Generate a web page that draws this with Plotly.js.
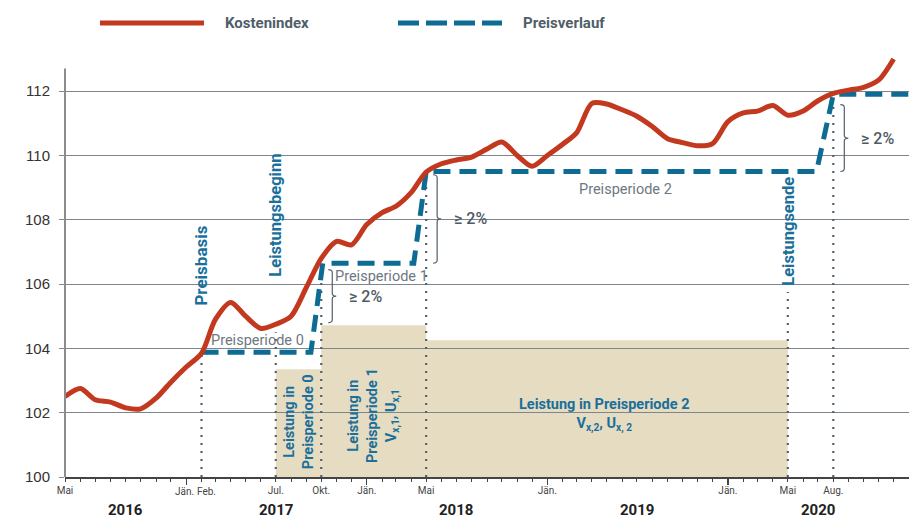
<!DOCTYPE html>
<html><head><meta charset="utf-8">
<script src="https://cdn.plot.ly/plotly-3.0.1.min.js"></script>
<style>html,body{margin:0;padding:0;background:#fff}#chart{width:909px;height:518px}</style>
</head><body><div id="chart"></div>
<script>
// ---- data ----
const months = [
 "2016-05-01","2016-06-01","2016-07-01","2016-08-01","2016-09-01","2016-10-01","2016-11-01","2016-12-01",
 "2017-01-01","2017-02-01","2017-03-01","2017-04-01","2017-05-01","2017-06-01","2017-07-01","2017-08-01","2017-09-01","2017-10-01","2017-11-01","2017-12-01",
 "2018-01-01","2018-02-01","2018-03-01","2018-04-01","2018-05-01","2018-06-01","2018-07-01","2018-08-01","2018-09-01","2018-10-01","2018-11-01","2018-12-01",
 "2019-01-01","2019-02-01","2019-03-01","2019-04-01","2019-05-01","2019-06-01","2019-07-01","2019-08-01","2019-09-01","2019-10-01","2019-11-01","2019-12-01",
 "2020-01-01","2020-02-01","2020-03-01","2020-04-01","2020-05-01","2020-06-01","2020-07-01","2020-08-01","2020-09-01","2020-10-01","2020-11-01","2020-12-01"];
const kostenindex = [
 102.5,102.75,102.4,102.33,102.15,102.12,102.45,102.95,
 103.42,103.85,104.9,105.43,105.0,104.62,104.75,105.0,105.9,106.8,107.33,107.22,
 107.85,108.22,108.42,108.85,109.48,109.74,109.86,109.95,110.2,110.42,110.0,109.66,
 110.0,110.35,110.7,111.62,111.6,111.42,111.22,110.9,110.52,110.4,110.3,110.37,
 111.05,111.32,111.38,111.55,111.25,111.38,111.7,111.93,112.03,112.12,112.35,113.0];
const preisDates = ["2017-02-01","2017-09-10","2017-10-04","2018-04-06","2018-05-01","2020-06-28","2020-08-01","2021-01-01"];
const preisWerte = [103.88,103.88,106.65,106.65,109.5,109.5,111.9,111.9];
const periodStart = ["2017-07-01","2017-10-01","2018-05-01"];
const periodEnd   = ["2017-10-01","2018-05-01","2020-05-01"];
const periodTop   = [103.35,104.72,104.25];
const markerDates = ["2017-02-01","2017-07-01","2017-10-01","2018-05-01","2020-05-01","2020-08-01"];
const markerTop   = [103.88,104.5,106.55,109.45,105.75,111.7];
const braceAnchor = ["2017-10-01","2018-05-01","2020-08-01"];
const braceLow    = [104.8,106.65,109.5];
const braceHigh   = [106.45,109.4,111.58];
const braceLabel  = ["≥ 2%","≥ 2%","≥ 2%"];
const tickDates = ["2016-05-01","2017-07-01","2017-10-01","2018-01-01","2018-05-01","2019-01-01","2020-01-01","2020-05-01","2020-08-01"];
const tickLabels = ["Mai","Jul.","Okt.","Jän.","Mai","Jän.","Jän.","Mai","Aug."];
const closeTickDates = ["2017-01-01","2017-02-01"];
const closeTickLabels = ["Jän.","Feb."];
const yearDates = ["2017-01-01","2018-01-01","2019-01-01","2020-01-01"];
const yearLabels = ["2016","2017","2018","2019","2020"];
const yearPos = ["2016-09-01","2017-07-01","2018-07-01","2019-07-01","2020-07-01"];
const yTicks = [100,102,104,106,108,110,112];

// ---- styles ----
const RED = "#c3391f", BLUE = "#0d6b94", TXTBLUE = "#1a6f9b", GREY = "#55606a", BEIGE = "#e6dcc2";
const FONT = "Roboto, 'Liberation Sans', sans-serif";

// dotted verticals
const dx = [], dy = [];
markerDates.forEach((d,i)=>{ dx.push(d,d,null); dy.push(100,markerTop[i],null); });

const traces = [
 {x: dx, y: dy, mode: "lines", line: {color: GREY, width: 2.2, dash: "2px,6px"}, hoverinfo: "skip", showlegend: false},
 {x: yearDates, y: yearDates.map(()=>null), xaxis: "x2", yaxis: "y", mode: "lines", hoverinfo: "skip", showlegend: false},
 {x: preisDates, y: preisWerte, name: "Preisverlauf", mode: "lines", line: {color: BLUE, width: 5, dash: "17px,9px"}, showlegend: false},
 {x: months, y: kostenindex, name: "Kostenindex", mode: "lines", line: {color: RED, width: 5, shape: "spline", smoothing: 0.8}, showlegend: false}
];

const shapes = [];
periodStart.forEach((s,i)=>{
  shapes.push({type: "rect", xref: "x", yref: "y", x0: s, x1: periodEnd[i], y0: 100, y1: periodTop[i],
    fillcolor: BEIGE, line: {width: 0}, layer: "below"});
});
braceAnchor.forEach((a,i)=>{
  const L = braceLow[i], H = braceHigh[i], M = (L+H)/2, d = 0.09;
  shapes.push({type: "path", xref: "x", yref: "y", xsizemode: "pixel", xanchor: a,
    path: `M 7,${H} Q 11,${H} 11,${H-d} L 11,${M+d} Q 11,${M} 15,${M} Q 11,${M} 11,${M-d} L 11,${L+d} Q 11,${L} 7,${L}`,
    line: {color: GREY, width: 1.2}});
});
// y axis line
shapes.push({type: "line", xref: "paper", yref: "y", x0: 0, x1: 0, y0: 100, y1: 112.7, line: {color: "#8c8c8c", width: 2}});
// legend swatches
const px = v => (v-65)/844, py = v => (477-v)/428;
shapes.push({type: "line", xref: "paper", yref: "paper", x0: px(100), x1: px(204), y0: py(23), y1: py(23), line: {color: RED, width: 5}});
shapes.push({type: "line", xref: "paper", yref: "paper", x0: px(398), x1: px(502), y0: py(23), y1: py(23), line: {color: BLUE, width: 5, dash: "21px,7px"}});

const ann = [];
ann.push({xref: "paper", yref: "paper", x: px(223), y: py(23), xanchor: "left", yanchor: "middle", text: "<b>Kostenindex</b>", showarrow: false, font: {family: FONT, size: 15, color: "#4f5e68"}});
ann.push({xref: "paper", yref: "paper", x: px(521), y: py(23), xanchor: "left", yanchor: "middle", text: "<b>Preisverlauf</b>", showarrow: false, font: {family: FONT, size: 15, color: "#4f5e68"}});
yearLabels.forEach((t,i)=>{
  ann.push({xref: "x", yref: "paper", x: yearPos[i], y: py(510), yanchor: "middle", text: "<b>"+t+"</b>", showarrow: false, font: {family: FONT, size: 15, color: "#222"}});
});
// month labels that sit too close for normal tick labels
const closeShift = [-2, 5];
closeTickDates.forEach((d,i)=>{
  ann.push({xref: "x", yref: "paper", x: d, y: py(491), xshift: closeShift[i], yanchor: "middle", text: closeTickLabels[i], showarrow: false, font: {family: FONT, size: 10, color: "#444"}});
});
braceAnchor.forEach((a,i)=>{
  ann.push({xref: "x", yref: "y", x: a, y: (braceLow[i]+braceHigh[i])/2, xshift: 44, text: braceLabel[i], showarrow: false, font: {family: FONT, size: 16, weight: 500, color: "#4f5a62"}});
});
const rot = (x,y,t,size)=>({xref: "x", yref: "y", x: x, y: y, textangle: -90, text: "<b>"+t+"</b>", showarrow: false, font: {family: FONT, size: size, color: TXTBLUE}});
ann.push(rot("2017-02-01", 106.56, "Preisbasis", 17));
ann.push(rot("2017-07-01", 108.15, "Leistungsbeginn", 16.5));
ann.push(rot("2020-05-01", 107.65, "Leistungsende", 16.5));
ann.push({xref: "x", yref: "y", x: "2017-08-16", y: 101.72, textangle: -90, text: "<b>Leistung in<br>Preisperiode 0</b>", showarrow: false, font: {family: FONT, size: 14.5, color: TXTBLUE}});
ann.push({xref: "x", yref: "y", x: "2018-01-16", y: 101.9, textangle: -90, text: "<b>Leistung in<br>Preisperiode 1<br>V<sub>x,1</sub>, U<sub>x,1</sub></b>", showarrow: false, font: {family: FONT, size: 14.5, color: TXTBLUE}});
ann.push({xref: "x", yref: "y", x: "2019-04-25", y: 101.94, text: "<b>Leistung in Preisperiode 2<br>V<sub>x,2</sub>, U<sub>x, 2</sub></b>", showarrow: false, font: {family: FONT, size: 14.5, color: TXTBLUE}});
const grey = (x,y,t)=>({xref: "x", yref: "y", x: x, y: y, text: t, showarrow: false, font: {family: FONT, size: 14.5, color: "#6d787f"}});
ann.push(grey("2017-05-25", 104.26, "Preisperiode 0"));
ann.push(grey("2018-01-31", 106.23, "Preisperiode 1"));
ann.push(grey("2019-06-07", 108.93, "Preisperiode 2"));

const layout = {
  width: 909, height: 518,
  margin: {l: 65, r: 0, t: 49, b: 41},
  paper_bgcolor: "#fff", plot_bgcolor: "#fff",
  showlegend: false,
  font: {family: FONT, color: "#333"},
  xaxis: {type: "date", range: ["2016-05-01","2021-01-01"], tickmode: "array", tickvals: tickDates, ticktext: tickLabels,
    ticks: "outside", ticklen: 3, tickcolor: "#444", tickwidth: 1, showline: true, linecolor: "#444", linewidth: 1.5,
    showgrid: false, zeroline: false, tickfont: {family: FONT, size: 10, color: "#444"}, tickangle: 0,
    minor: {dtick: "M1", tick0: "2016-05-01", ticks: "outside", ticklen: 3, tickcolor: "#444", showgrid: false}},
  xaxis2: {type: "date", overlaying: "x", matches: "x", anchor: "y", side: "bottom", range: ["2016-05-01","2021-01-01"],
    tickmode: "array", tickvals: yearDates, ticks: "outside", ticklen: 7, tickcolor: "#444", tickwidth: 1.2,
    showticklabels: false, showline: false, showgrid: false, zeroline: false},
  yaxis: {range: [100, 113.31], tickmode: "array", tickvals: yTicks, ticks: "outside", ticklen: 5, tickcolor: "#888",
    showline: false, showgrid: true, gridcolor: "#7d868c", gridwidth: 1, zeroline: false, ticklabelstandoff: 6,
    tickfont: {family: "'Liberation Sans', Arial, sans-serif", size: 15, color: "#333"}},
  shapes: shapes,
  annotations: ann
};
Plotly.newPlot("chart", traces, layout, {displayModeBar: false, staticPlot: true});
</script></body></html>
